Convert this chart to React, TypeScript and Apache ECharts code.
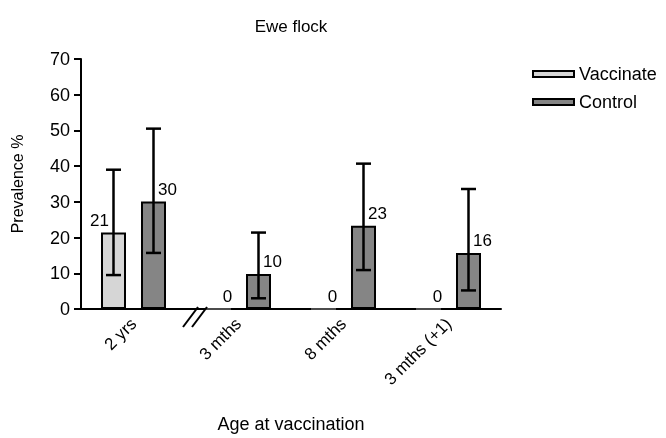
import React, { useEffect, useRef } from "react";
import * as echarts from "echarts";

const categories = ["2 yrs", "3 mths", "8 mths", "3 mths (+1)"];
const vaccinate = [21.4, 0, 0, 0];
const control = [30.1, 9.8, 23.3, 15.7];
const vaccinateLow = [9.5, 0, 0, 0];
const vaccinateHigh = [39.0, 0, 0, 0];
const controlLow = [15.7, 3.0, 10.9, 5.2];
const controlHigh = [50.5, 21.4, 40.7, 33.6];
const vaccinateLabelOffsetX = [-14, 9, 9, 9];
const yTicks = { min: 0, max: 70, interval: 10 };

const FONT = "'Liberation Sans', Arial, sans-serif";
const BAR_W = 25;
const BAR_GAP = 15;
const HALF = (BAR_W + BAR_GAP) / 2;

function errorSeries(name: string, lo: number[], hi: number[], off: number) {
  return {
    type: "custom",
    name: name + " err",
    z: 5,
    silent: true,
    data: categories.map((_, i) => [i, lo[i], hi[i]]),
    renderItem: (params: any, api: any) => {
      const idx = api.value(0);
      const l = api.value(1);
      const h = api.value(2);
      if (!(h > l)) return { type: "group", children: [] };
      const x = api.coord([idx, 0])[0] + off;
      const yl = api.coord([idx, l])[1];
      const yh = api.coord([idx, h])[1];
      const st = { stroke: "#000", lineWidth: 2.5 };
      const cap = 7.5;
      return {
        type: "group",
        children: [
          { type: "line", shape: { x1: x, y1: yl, x2: x, y2: yh }, style: st },
          { type: "line", shape: { x1: x - cap, y1: yh, x2: x + cap, y2: yh }, style: st },
          { type: "line", shape: { x1: x - cap, y1: yl, x2: x + cap, y2: yl }, style: st },
        ],
      };
    },
  };
}

export default function App() {
  const ref = useRef<HTMLDivElement>(null);
  useEffect(() => {
    if (!ref.current) return;
    const chart = echarts.init(ref.current, undefined, { renderer: "svg" });
    const labelStyle = { show: true, position: "top", distance: 4, fontSize: 17, color: "#000", fontFamily: FONT };
    chart.setOption({
      animation: false,
      textStyle: { fontFamily: FONT },
      grid: { left: 81, top: 59, width: 420, height: 258, containLabel: false },
      legend: {
        orient: "vertical",
        left: 532,
        top: 65,
        padding: 0,
        itemWidth: 41,
        itemHeight: 6,
        itemGap: 10,
        icon: "rect",
        textStyle: { fontSize: 18, color: "#000", fontFamily: FONT },
        data: [
          { name: "Vaccinate", itemStyle: { color: "#d6d6d6", borderColor: "#000", borderWidth: 2 } },
          { name: "Control", itemStyle: { color: "#858585", borderColor: "#000", borderWidth: 2 } },
        ],
      },
      xAxis: {
        type: "category",
        data: categories,
        name: "Age at vaccination",
        nameLocation: "middle",
        nameGap: 106,
        nameTextStyle: { fontSize: 18, color: "#000", fontFamily: FONT },
        axisLine: { lineStyle: { color: "#000", width: 2 } },
        axisTick: { alignWithLabel: true, length: 7, lineStyle: { color: "#000", width: 2 } },
        axisLabel: { rotate: 45, fontSize: 17, color: "#000", margin: 12, fontFamily: FONT },
      },
      yAxis: {
        type: "value",
        min: yTicks.min,
        max: yTicks.max,
        interval: yTicks.interval,
        name: "Prevalence %",
        nameLocation: "middle",
        nameRotate: 90,
        nameGap: 56,
        nameTextStyle: { fontSize: 16, color: "#000", fontFamily: FONT },
        splitLine: { show: false },
        axisLine: { show: true, lineStyle: { color: "#000", width: 2 } },
        axisTick: { show: true, length: 7, lineStyle: { color: "#000", width: 2 } },
        axisLabel: { fontSize: 18, color: "#000", margin: 11, fontFamily: FONT },
      },
      series: [
        {
          type: "bar",
          name: "Vaccinate",
          barWidth: BAR_W,
          barGap: (BAR_GAP / BAR_W) * 100 + "%",
          itemStyle: { color: "#d6d6d6", borderColor: "#000", borderWidth: 2 },
          data: vaccinate.map((v, i) => ({
            value: v,
            label: { ...labelStyle, offset: [vaccinateLabelOffsetX[i], 0], formatter: String(Math.round(v)) },
            itemStyle: v === 0 ? { borderColor: "#666", borderWidth: 1 } : undefined,
          })),
        },
        {
          type: "bar",
          name: "Control",
          barWidth: BAR_W,
          itemStyle: { color: "#858585", borderColor: "#000", borderWidth: 2 },
          data: control.map((v) => ({
            value: v,
            label: { ...labelStyle, offset: [14, 0], formatter: String(Math.round(v)) },
          })),
        },
        errorSeries("Vaccinate", vaccinateLow, vaccinateHigh, -HALF),
        errorSeries("Control", controlLow, controlHigh, HALF),
      ],
      graphic: [
        {
          type: "text",
          x: 291,
          y: 26,
          style: { text: "Ewe flock", fontSize: 17, fill: "#000", fontFamily: FONT, align: "center", verticalAlign: "middle" },
        },
        { type: "rect", z: 100, shape: { x: 186, y: 312, width: 16, height: 9 }, style: { fill: "#fff" } },
        { type: "line", z: 101, shape: { x1: 183, y1: 327, x2: 198, y2: 307 }, style: { stroke: "#000", lineWidth: 2 } },
        { type: "line", z: 101, shape: { x1: 192, y1: 327, x2: 207, y2: 307 }, style: { stroke: "#000", lineWidth: 2 } },
      ],
    });
    return () => chart.dispose();
  }, []);
  return <div ref={ref} style={{ position: "fixed", left: 0, top: 0, width: 666, height: 438 }} />;
}
